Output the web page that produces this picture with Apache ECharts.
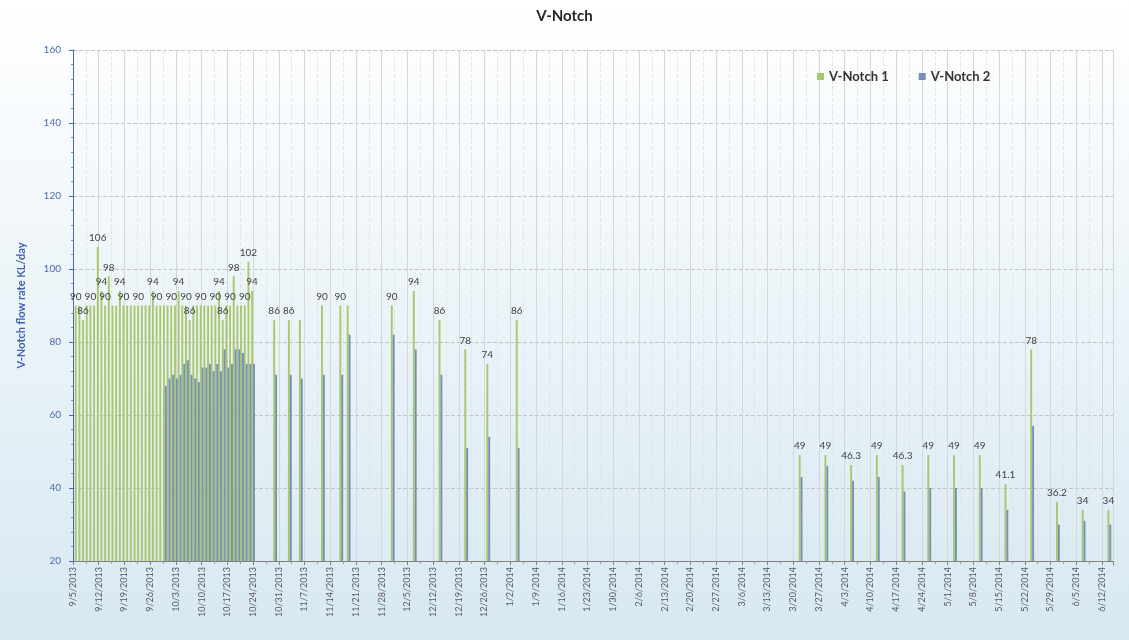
<!DOCTYPE html>
<html>
<head>
<meta charset="utf-8">
<script src="https://cdn.jsdelivr.net/npm/echarts@6/dist/echarts.min.js"></script>
<style>
  html, body { margin: 0; padding: 0; background: #ffffff; }
  #chart { width: 1129px; height: 640px; }
</style>
</head>
<body>
<div id="chart"></div>
<script>
// Axis range: day 0 is the first tick date, ticks every week.
const axisStart = '9/5/2013';
const axisDays = 283;
const tickStep = 7;

// Y axis range and step (KL/day)
const yMin = 20;
const yMax = 160;
const yStep = 20;

// V-Notch 1 readings
const v1Dates = [
  '9/6/2013', '9/7/2013', '9/8/2013', '9/9/2013', '9/10/2013', '9/11/2013', '9/12/2013', '9/13/2013', '9/14/2013', '9/15/2013',
  '9/16/2013', '9/17/2013', '9/18/2013', '9/19/2013', '9/20/2013', '9/21/2013', '9/22/2013', '9/23/2013', '9/24/2013', '9/25/2013',
  '9/26/2013', '9/27/2013', '9/28/2013', '9/29/2013', '9/30/2013', '10/1/2013', '10/2/2013', '10/3/2013', '10/4/2013', '10/5/2013',
  '10/6/2013', '10/7/2013', '10/8/2013', '10/9/2013', '10/10/2013', '10/11/2013', '10/12/2013', '10/13/2013', '10/14/2013', '10/15/2013',
  '10/16/2013', '10/17/2013', '10/18/2013', '10/19/2013', '10/20/2013', '10/21/2013', '10/22/2013', '10/23/2013', '10/24/2013',
  '10/30/2013', '11/3/2013', '11/6/2013', '11/12/2013', '11/17/2013', '11/19/2013', '12/1/2013', '12/7/2013', '12/14/2013',
  '12/21/2013', '12/27/2013', '1/4/2014',
  '3/22/2014', '3/29/2014', '4/5/2014', '4/12/2014', '4/19/2014', '4/26/2014', '5/3/2014', '5/10/2014', '5/17/2014',
  '5/24/2014', '5/31/2014', '6/7/2014', '6/14/2014'
];
const v1Values = [
  90, 90, 86, 90, 90, 90, 106, 94, 90, 98,
  90, 90, 94, 90, 90, 90, 90, 90, 90, 90,
  90, 94, 90, 90, 90, 90, 90, 90, 94, 90,
  90, 86, 90, 90, 90, 90, 90, 90, 90, 94,
  86, 90, 90, 98, 90, 90, 90, 102, 94,
  86, 86, 86, 90, 90, 90, 90, 94, 86,
  78, 74, 86,
  49, 49, 46.3, 49, 46.3, 49, 49, 49, 41.1,
  78, 36.2, 34, 34
];

// V-Notch 2 readings
const v2Dates = [
  '9/30/2013', '10/1/2013', '10/2/2013', '10/3/2013', '10/4/2013', '10/5/2013', '10/6/2013', '10/7/2013', '10/8/2013', '10/9/2013',
  '10/10/2013', '10/11/2013', '10/12/2013', '10/13/2013', '10/14/2013', '10/15/2013', '10/16/2013', '10/17/2013', '10/18/2013', '10/19/2013',
  '10/20/2013', '10/21/2013', '10/22/2013', '10/23/2013', '10/24/2013',
  '10/30/2013', '11/3/2013', '11/6/2013', '11/12/2013', '11/17/2013', '11/19/2013', '12/1/2013', '12/7/2013', '12/14/2013',
  '12/21/2013', '12/27/2013', '1/4/2014',
  '3/22/2014', '3/29/2014', '4/5/2014', '4/12/2014', '4/19/2014', '4/26/2014', '5/3/2014', '5/10/2014', '5/17/2014',
  '5/24/2014', '5/31/2014', '6/7/2014', '6/14/2014'
];
const v2Values = [
  68, 70, 71, 70, 71, 74, 75, 71, 70, 69,
  73, 73, 74, 72, 74, 72, 78, 73, 74, 78,
  78, 77, 74, 74, 74,
  71, 71, 70, 71, 71, 82, 82, 78, 71,
  51, 54, 51,
  43, 46, 42, 43, 39, 40, 40, 40, 34,
  57, 30, 31, 30
];

const DAY_MS = 86400000;
function parseDate(s) {
  const p = s.split('/').map(Number);
  return Date.UTC(p[2], p[0] - 1, p[1]);
}
const origin = parseDate(axisStart);
function dayOffset(s) {
  return Math.round((parseDate(s) - origin) / DAY_MS);
}
function dateLabel(off) {
  const t = new Date(origin + off * DAY_MS);
  return (t.getUTCMonth() + 1) + '/' + t.getUTCDate() + '/' + t.getUTCFullYear();
}

const v1Data = v1Dates.map((d, i) => [dayOffset(d), v1Values[i]]);
const v2Data = v2Dates.map((d, i) => [dayOffset(d), v2Values[i]]);

const green = '#a9c76c';
const blue = '#7690b6';
const fontFamily = 'Lato, "Open Sans", sans-serif';

const chart = echarts.init(document.getElementById('chart'), null, { renderer: 'canvas' });

chart.setOption({
  animation: false,
  backgroundColor: new echarts.graphic.LinearGradient(0, 0, 0, 1, [
    { offset: 0, color: '#ffffff' },
    { offset: 1, color: '#d7e8f2' }
  ]),
  textStyle: { fontFamily: fontFamily },
  title: {
    text: 'V-Notch',
    left: 'center',
    top: 4,
    textStyle: { fontSize: 15, fontWeight: 'bold', color: '#262626', fontFamily: fontFamily }
  },
  legend: {
    left: 812,
    top: 65,
    icon: 'rect',
    itemWidth: 7,
    itemHeight: 7,
    itemGap: 30,
    textStyle: { fontSize: 13, fontWeight: 'bold', color: '#333333', fontFamily: fontFamily },
    data: ['V-Notch 1', 'V-Notch 2']
  },
  grid: {
    left: 73,
    right: 16,
    top: 50,
    bottom: 79,
    containLabel: false
  },
  xAxis: {
    type: 'value',
    min: 0,
    max: axisDays,
    interval: tickStep,
    axisLine: { show: true, lineStyle: { color: '#808080', width: 1 } },
    axisTick: { show: true, length: 4, lineStyle: { color: '#808080' } },
    minorTick: { show: true, splitNumber: 2, length: 3, lineStyle: { color: '#999999' } },
    axisLabel: {
      rotate: 90,
      fontSize: 9,
      color: '#595959',
      margin: 6,
      showMaxLabel: false,
      formatter: function (v) { return v % tickStep === 0 ? dateLabel(v) : ''; }
    },
    splitLine: { show: true, lineStyle: { color: '#d6d6d6', width: 1 } },
    minorSplitLine: { show: true, lineStyle: { color: '#e4e4e4', width: 1, type: 'dashed' } }
  },
  yAxis: {
    type: 'value',
    min: yMin,
    max: yMax,
    interval: yStep,
    name: 'V-Notch flow rate KL/day',
    nameLocation: 'middle',
    nameGap: 46,
    nameTextStyle: { color: '#3f62ad', fontSize: 11, fontWeight: 'bold', fontFamily: fontFamily },
    axisLine: { show: true, lineStyle: { color: '#4a69ad', width: 1 } },
    axisTick: { show: true, length: 4, lineStyle: { color: '#4a69ad' } },
    minorTick: { show: true, splitNumber: 5, length: 2, lineStyle: { color: '#7f93c2' } },
    axisLabel: { color: '#4a69ad', fontSize: 10, margin: 12 },
    splitLine: { show: true, lineStyle: { color: '#c4c4c4', type: 'dashed', width: 1 } }
  },
  series: [
    {
      name: 'V-Notch 1',
      type: 'bar',
      data: v1Data,
      barWidth: 1.9,
      barGap: '0%',
      itemStyle: { color: green },
      label: {
        show: true,
        position: 'top',
        distance: 4,
        fontSize: 10,
        color: '#404040',
        fontFamily: fontFamily
      },
      labelLayout: { hideOverlap: true }
    },
    {
      name: 'V-Notch 2',
      type: 'bar',
      data: v2Data,
      barWidth: 1.9,
      barGap: '0%',
      itemStyle: { color: blue }
    }
  ]
});
</script>
</body>
</html>
